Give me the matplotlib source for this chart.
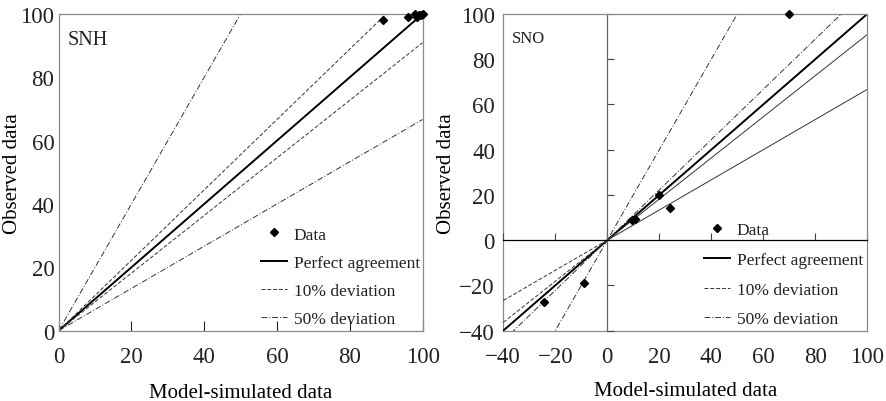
import numpy as np
import matplotlib
matplotlib.use("Agg")
import matplotlib.pyplot as plt
from matplotlib.lines import Line2D

plt.rcParams['font.family'] = ['Liberation Serif', 'DejaVu Serif']
plt.rcParams['text.color'] = '#222222'
plt.rcParams['xtick.color'] = '#222222'
plt.rcParams['ytick.color'] = '#222222'

# data
snh_model = [89, 96, 98, 98.5, 99, 99.5, 100]
snh_obs = [98, 99, 100, 99, 99.5, 99.8, 100]
sno_model = [70, 9.5, 10.5, 20, 24, -9, -24.5]
sno_obs = [100, 9, 9.5, 20, 14, -19, -27.5]
deviations = [0.10, 0.50]
snh_ticks = [0, 20, 40, 60, 80, 100]
sno_ticks = [-40, -20, 0, 20, 40, 60, 80, 100]
legend_labels = ['Data', 'Perfect agreement', '10% deviation', '50% deviation']

box_grey = '#8a8a8a'
line_col = '#333333'
styles = {0.10: (0, (4, 2)), 0.50: (0, (6, 2, 1, 2))}
tick_fs = 16.5
label_fs = 15

fig = plt.figure(figsize=(8.86, 4.02), dpi=100)
ax1 = fig.add_axes([0.0662, 0.175, 0.4108, 0.788])
ax2 = fig.add_axes([0.568, 0.175, 0.411, 0.788])


def legend_handles():
    return [Line2D([], [], ls='none', marker='D', ms=4.5, color='black'),
            Line2D([], [], color='black', lw=1.4),
            Line2D([], [], color=line_col, lw=0.7, ls=styles[0.10]),
            Line2D([], [], color=line_col, lw=0.7, ls=styles[0.50])]


# ---- left panel: SNH
xx = np.array([0, 100])
ax1.plot(xx, xx, color='black', lw=1.4)
for d in deviations:
    ax1.plot(xx, xx / (1 - d), color=line_col, lw=0.7, ls=styles[d])
    ax1.plot(xx, xx / (1 + d), color=line_col, lw=0.7, ls=styles[d])
ax1.plot(snh_model, snh_obs, ls='none', marker='D', ms=4.5, color='black',
         clip_on=False, zorder=5)
ax1.set_xlim(0, 100)
ax1.set_ylim(0, 100)
ax1.set_xticks(snh_ticks)
ax1.set_yticks(snh_ticks)
ax1.tick_params(axis='x', direction='in', length=7, width=0.8, labelsize=tick_fs, pad=11)
ax1.tick_params(axis='y', length=0, labelsize=tick_fs, pad=3)
for s in ax1.spines.values():
    s.set_color(box_grey)
    s.set_linewidth(0.9)
ax1.set_xlabel('Model-simulated data', fontsize=label_fs)
ax1.xaxis.set_label_coords(0.5, -0.165)
ax1.set_ylabel('Observed data', fontsize=label_fs)
ax1.yaxis.set_label_coords(-0.1, 0.5)
ax1.text(0.025, 0.95, 'SNH', transform=ax1.transAxes, fontsize=14.5, va='top')
ax1.legend(legend_handles(), legend_labels, loc='lower left',
           bbox_to_anchor=(0.555, 0.01), frameon=False, fontsize=12.5,
           handlelength=1.5, handletextpad=0.4, labelspacing=0.7,
           borderpad=0, borderaxespad=0)

# ---- right panel: SNO
xx = np.array([-40, 100])
xneg = np.array([-40, 0])
xpos = np.array([0, 100])
ax2.plot(xx, xx, color='black', lw=1.4)
for d in deviations:
    ax2.plot(xx, xx / (1 - d), color=line_col, lw=0.7, ls=styles[0.50])
    ax2.plot(xneg, xneg / (1 + d), color=line_col, lw=0.7, ls=styles[0.10])
    ax2.plot(xpos, xpos / (1 + d), color=line_col, lw=0.7)
ax2.plot(sno_model, sno_obs, ls='none', marker='D', ms=4.5, color='black',
         clip_on=False, zorder=5)
ax2.set_xlim(-40, 100)
ax2.set_ylim(-40, 100)
ax2.set_xticks(sno_ticks)
ax2.set_yticks(sno_ticks)
ax2.spines['left'].set_position(('data', 0))
ax2.spines['bottom'].set_position(('data', 0))
ax2.spines['left'].set_color('#666666')
ax2.spines['bottom'].set_color('black')
ax2.spines['top'].set_color(box_grey)
ax2.spines['right'].set_color(box_grey)
for s in ax2.spines.values():
    s.set_linewidth(0.9)
ax2.tick_params(direction='in', length=5, width=0.8, colors='#444444',
                labelleft=False, labelbottom=False)

sx = ax2.secondary_xaxis('bottom')
sx.set_xticks(sno_ticks)
sx.tick_params(length=0, labelsize=tick_fs, pad=11)
sx.spines['bottom'].set_color(box_grey)
sx.spines['bottom'].set_linewidth(0.9)
sx.set_xlabel('Model-simulated data', fontsize=label_fs, labelpad=10)
sy = ax2.secondary_yaxis('left')
sy.set_yticks(sno_ticks)
sy.tick_params(length=0, labelsize=tick_fs, pad=6)
sy.spines['left'].set_color(box_grey)
sy.spines['left'].set_linewidth(0.9)
sy.set_ylabel('Observed data', fontsize=label_fs, labelpad=2)

ax2.text(0.025, 0.95, 'SNO', transform=ax2.transAxes, fontsize=12, va='top')
ax2.legend(legend_handles(), legend_labels, loc='lower left',
           bbox_to_anchor=(0.55, 0.01), frameon=False, fontsize=12.5,
           handlelength=1.5, handletextpad=0.4, labelspacing=0.78,
           borderpad=0, borderaxespad=0)

fig.savefig('out.png', dpi=100)
